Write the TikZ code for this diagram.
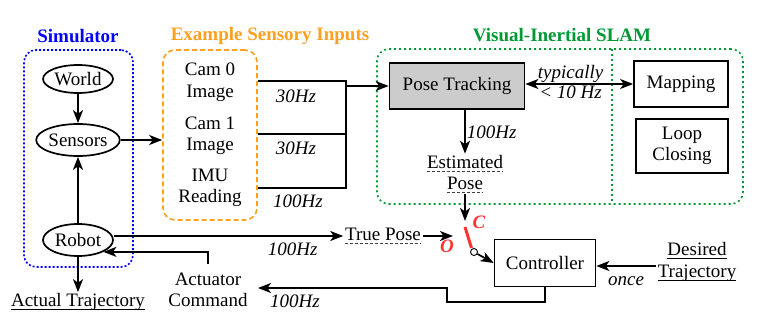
\documentclass[tikz,border=0pt]{standalone}
\usepackage{fontspec}
\setmainfont{Liberation Serif}
\usepackage{xcolor}
\usetikzlibrary{arrows.meta, calc, positioning, shapes.geometric}
\definecolor{simblue}{RGB}{0,0,255}
\definecolor{inorange}{RGB}{255,160,32}
\definecolor{slamgreen}{RGB}{0,153,51}
\definecolor{switchred}{RGB}{255,51,51}
\newcommand{\dashedul}[1]{\tikz[baseline=(u.base)]{\node[inner sep=0pt] (u) {#1};
    \draw[darkgray, line width=0.9pt, dash pattern=on 3pt off 2pt] ([yshift=-3pt]u.base west) -- ([yshift=-3pt]u.base east);}}
\newcommand{\solidul}[1]{\tikz[baseline=(u.base)]{\node[inner sep=0pt] (u) {#1};
    \draw[line width=1pt] ([yshift=-3pt]u.base west) -- ([yshift=-3pt]u.base east);}}

\begin{document}
\begin{tikzpicture}[
    x=1pt, y=-1pt,
    font=\fontsize{19}{21.5}\selectfont,
    blk/.style={rectangle, draw, line width=1.7pt, align=center, inner sep=2pt},
    oval/.style={ellipse, draw, line width=1.7pt, inner sep=0pt},
    group/.style={rectangle, draw, rounded corners=12pt, line width=1.6pt, inner sep=0pt},
    title/.style={font=\fontsize{19}{21.5}\selectfont\bfseries},
    rate/.style={font=\fontsize{19}{21.5}\selectfont\itshape, inner sep=1pt},
    txt/.style={align=center, inner sep=1pt},
    wire/.style={line width=1.7pt},
    arrow/.style={-{Stealth[length=13pt, width=10pt, inset=3.5pt]}, line width=1.7pt}
]
    \useasboundingbox (0,0) rectangle (757,313);

    % 三个区域
    \node[group, simblue, dash pattern=on 2pt off 2pt, minimum width=109pt, minimum height=217pt] (sim) at (78.5,158.5) {};
    \node[group, inorange, dash pattern=on 5pt off 3pt, minimum width=94pt, minimum height=170pt] (inputs) at (210,135) {};
    \node[group, slamgreen, dash pattern=on 2pt off 3pt, minimum width=366pt, minimum height=155pt] (slam) at (560,126.5) {};
    \draw[slamgreen, dash pattern=on 2pt off 3pt, line width=1.6pt] (612,49) -- (612,204);

    % 标题
    \node[title, text=simblue] (simtitle) at (78,36) {Simulator};
    \node[title, text=inorange] (intitle) at (270,36) {Example Sensory Inputs};
    \node[title, text=slamgreen] (slamtitle) at (562,35) {Visual-Inertial SLAM};

    % 仿真器
    \node[oval, minimum width=70pt, minimum height=28pt] (world) at (78,79) {World};
    \node[oval, minimum width=78pt, minimum height=32pt] (sensors) at (78,140) {Sensors};
    \node[oval, minimum width=70pt, minimum height=32pt] (robot) at (78,240) {Robot};
    \node[txt] (actual) at (78,302) {\solidul{Actual Trajectory}};

    \draw[arrow] (world) -- (sensors);
    \draw[arrow] (robot) -- (sensors);
    \draw[arrow] (robot) -- (actual);
    \draw[arrow] (sensors) -- (sensors -| inputs.west);

    % 传感器输入
    \node[txt] (cam0) at (210,82) {Cam 0\\Image};
    \node[txt] (cam1) at (210,136) {Cam 1\\Image};
    \node[txt] (imu) at (210,188) {IMU\\Reading};

    \coordinate (bustop) at (346,81);
    \coordinate (busmid) at (346,134);
    \coordinate (busbot) at (346,188);
    \draw[wire] (inputs.east |- bustop) -- (bustop) -- (busbot) -- (inputs.east |- busbot);
    \draw[wire] (inputs.east |- busmid) -- (busmid);
    \node[rate] at (296,96) {30Hz};
    \node[rate] at (296,148) {30Hz};
    \node[rate] at (298,201) {100Hz};

    % SLAM
    \node[blk, fill=black!20, minimum width=135pt, minimum height=46pt] (track) at (457,86) {Pose Tracking};
    \node[blk, minimum width=94pt, minimum height=46pt] (mapping) at (681,84) {Mapping};
    \node[blk, minimum width=92pt, minimum height=54pt] (loop) at (682,146) {Loop\\Closing};
    \node[txt] (est) at (465,174) {\dashedul{Estimated}\\\dashedul{Pose}};

    \draw[arrow] (bustop |- track.west) -- (track.west);
    \draw[arrow, {Stealth[length=13pt, width=10pt, inset=3.5pt]}-{Stealth[length=13pt, width=10pt, inset=3.5pt]}] (track.east |- mapping.west) -- node[rate, pos=0.42, above] {typically} node[rate, pos=0.42, below] {< 10 Hz} (mapping.west);
    \draw[arrow] (est |- track.south) -- node[rate, right] {100Hz} (est.north);

    % 切换开关
    \coordinate (swin) at (465,221);
    \coordinate (swopen) at (453,236);
    \node[circle, draw, fill=white, line width=0.9pt, inner sep=0pt, minimum size=7pt] (pin) at (474,252) {};
    \draw[switchred, line width=3pt] (465,227) -- (471.5,248);
    \node[font=\fontsize{19}{21.5}\selectfont\bfseries\itshape, text=switchred] (cpos) at (479,222) {C};
    \node[font=\fontsize{19}{21.5}\selectfont\bfseries\itshape, text=switchred] (opos) at (447,246) {O};
    \draw[arrow] (est.south) -- (swin);

    \node[txt] (truepose) at (383,236) {\dashedul{True Pose}};
    \draw[arrow] (robot.east |- truepose) -- node[rate, pos=0.78, below=5pt] {100Hz} (truepose.west);
    \draw[arrow] (truepose.east) -- (swopen);

    % 控制器
    \node[blk, minimum width=101pt, minimum height=47pt] (ctrl) at (545,263) {Controller};
    \node[txt] (desired) at (697,262) {\solidul{Desired}\\\solidul{Trajectory}};
    \node[txt] (actcmd) at (208,290) {Actuator\\Command};
    \coordinate (cmdin) at (258,288);

    \draw[arrow] (pin) -- (ctrl.west);
    \draw[arrow] (desired.west |- 0,266) -- node[rate, below=9pt] {once} (ctrl.east |- 0,266);
    \draw[arrow] (ctrl.south) |- (447,302) |- (cmdin);
    \node[rate] at (295,301) {100Hz};
    \draw[arrow] ([yshift=8pt]actcmd.north) |- (robot.-25);
\end{tikzpicture}
\end{document}
